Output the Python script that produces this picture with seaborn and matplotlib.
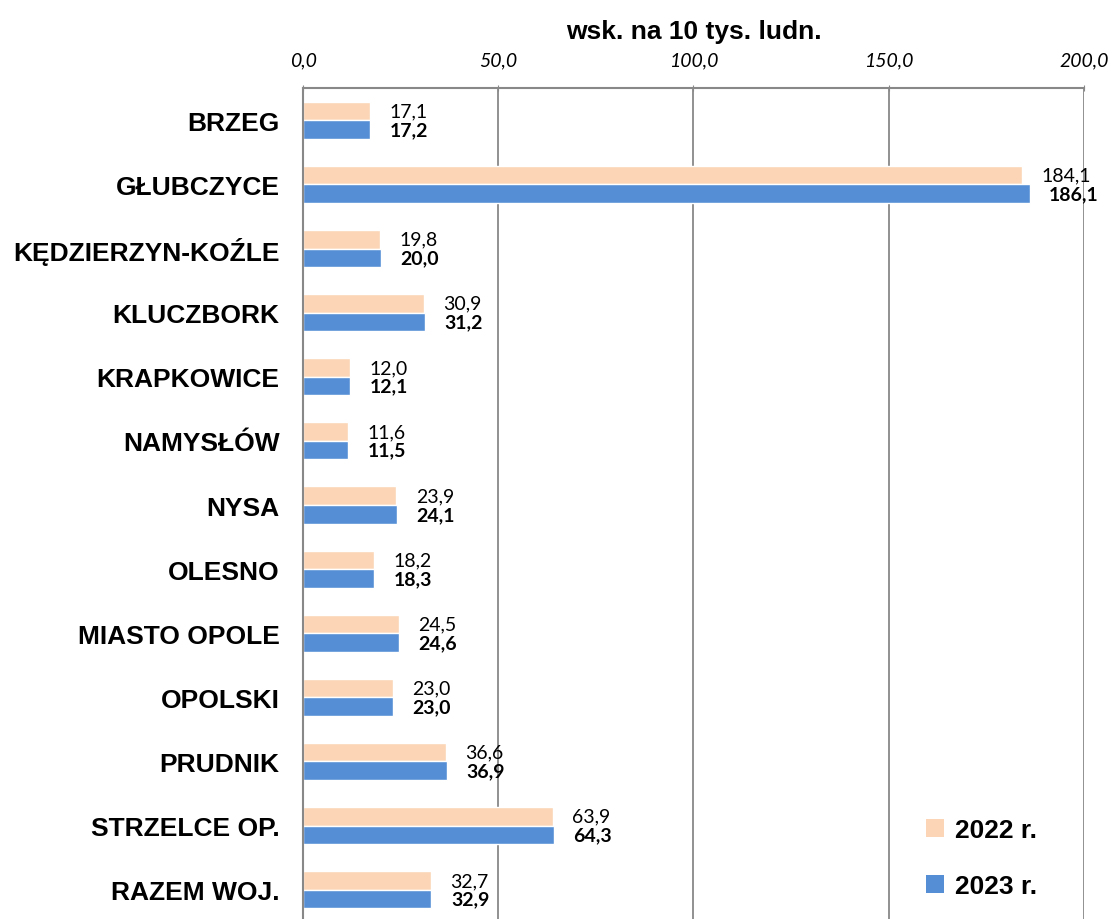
import pandas as pd
import seaborn as sns
import matplotlib.pyplot as plt
from matplotlib.ticker import FuncFormatter, FixedLocator
from matplotlib.patches import Patch

regions = ["BRZEG", "GŁUBCZYCE", "KĘDZIERZYN-KOŹLE", "KLUCZBORK", "KRAPKOWICE",
           "NAMYSŁÓW", "NYSA", "OLESNO", "MIASTO OPOLE", "OPOLSKI", "PRUDNIK",
           "STRZELCE OP.", "RAZEM WOJ."]
vals_2022 = [17.1, 184.1, 19.8, 30.9, 12.0, 11.6, 23.9, 18.2, 24.5, 23.0, 36.6, 63.9, 32.7]
vals_2023 = [17.2, 186.1, 20.0, 31.2, 12.1, 11.5, 24.1, 18.3, 24.6, 23.0, 36.9, 64.3, 32.9]
years = ["2022 r.", "2023 r."]
colors = ["#FBD5B5", "#558ED5"]

df = pd.DataFrame({
    "region": regions * 2,
    "value": vals_2022 + vals_2023,
    "year": [years[0]] * len(regions) + [years[1]] * len(regions),
})

sns.set_style("white")
plt.rcParams['font.family'] = ['Liberation Sans', 'DejaVu Sans']
plt.rcParams['text.color'] = 'black'
plt.rcParams['xtick.labelcolor'] = 'black'
plt.rcParams['ytick.labelcolor'] = 'black'

fig = plt.figure(figsize=(11.14, 9.2), dpi=100)
ax = fig.add_axes([0.272, -0.003, 0.701, 0.906])

sns.barplot(data=df, y="region", x="value", hue="year", orient="h",
            palette=colors, width=0.58, ax=ax, legend=False, saturation=1)

ax.set_xlim(0, 200)
ax.set_ylim(len(regions) - 0.5, -0.5)
ax.xaxis.tick_top()
ax.set_xticks([0, 50, 100, 150, 200])
ax.xaxis.set_major_formatter(FuncFormatter(lambda v, p: f"{v:.1f}".replace(".", ",")))
for t in ax.get_xticklabels():
    t.set_fontstyle("italic")
    t.set_fontfamily("Lato")
    t.set_fontsize(14)
ax.tick_params(axis="x", which="major", length=5, direction="inout", color="#888888", pad=12)
ax.grid(axis="x", color="#888888", linewidth=1.3)
ax.set_axisbelow(True)

ax.set_xlabel("")
ax.set_ylabel("")
ax.set_title("wsk. na 10 tys. ludn.", fontsize=19, fontweight="bold", pad=36, color="black")

ax.tick_params(axis="y", which="major", length=0, pad=17, labelsize=19)
for t in ax.get_yticklabels():
    t.set_fontweight("bold")
ax.yaxis.set_minor_locator(FixedLocator([i + 0.5 for i in range(len(regions))]))
ax.tick_params(axis="y", which="minor", length=6, color="#888888", width=1.2, direction="out")

for side in ["right", "bottom"]:
    ax.spines[side].set_visible(False)
for side in ["left", "top"]:
    ax.spines[side].set_color("#888888")
    ax.spines[side].set_linewidth(1.5)

fmt = lambda v: f"{v:.1f}".replace(".", ",")
c22, c23 = ax.containers[0], ax.containers[1]
ax.bar_label(c22, labels=[fmt(v) for v in vals_2022], padding=14,
             fontsize=14, family="Lato", color="black")
ax.bar_label(c23, labels=[fmt(v) for v in vals_2023], padding=14,
             fontsize=14, family="Lato", fontweight="bold", color="black")

handles = [Patch(facecolor=c, edgecolor="none") for c in colors]
ax.legend(handles, years, loc="lower right", bbox_to_anchor=(0.97, 0.0),
          frameon=False, handlelength=0.7, handleheight=0.7, handletextpad=0.4,
          labelspacing=1.2, prop={"weight": "bold", "size": 19})

fig.savefig("out.png", dpi=100)
